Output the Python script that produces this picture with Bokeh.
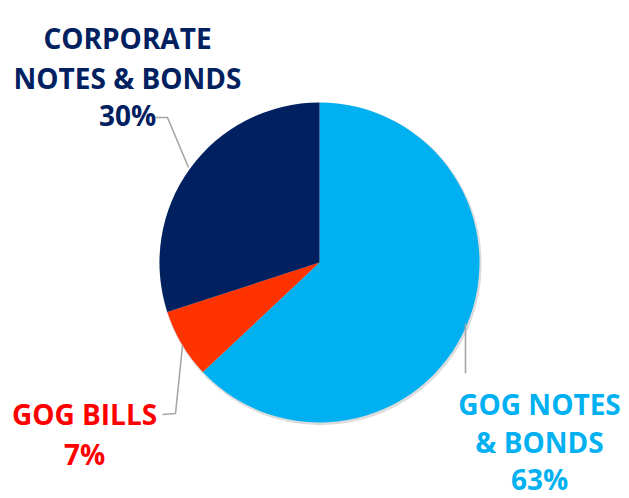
import math
from bokeh.plotting import figure
from bokeh.models import Range1d, ColumnDataSource
from bokeh.core.properties import value
from bokeh.embed import file_html
from bokeh.resources import INLINE

# ---- data ----
categories = ["GOG NOTES & BONDS", "GOG BILLS", "CORPORATE NOTES & BONDS"]
values = [63, 7, 30]
label_lines = [["GOG NOTES", "& BONDS"], ["GOG BILLS"], ["CORPORATE", "NOTES & BONDS"]]
pct_labels = ["63%", "7%", "30%"]

# ---- style / layout ----
slice_colors = ["#00B0F0", "#FF3300", "#002060"]
text_colors = ["#00B0F0", "#FF0000", "#002060"]
W, H = 629, 498
CX, CY, R = 319, 262, 160           # page pixel coords
label_pos = [(539, 403, 38.5), (84, 413, 40), (127, 37, 40)]  # center x, first baseline, line height
pct_drop = [75, 40, 77]
leaders = [
    [(465, 323), (465, 373)],
    [(182, 345), (175, 413), (162, 414)],
    [(188, 167), (167, 117), (155, 117)],
]
FONT = "Open Sans"

def Y(y):
    return H - y

p = figure(width=W, height=H, x_range=Range1d(0, W), y_range=Range1d(0, H),
           output_backend="svg", toolbar_location=None, x_axis_type=None, y_axis_type=None,
           min_border=0, outline_line_color=None)
p.grid.visible = False
p.background_fill_color = "white"
p.border_fill_color = "white"

# subtle shadow
p.circle(x=[CX + 1], y=[Y(CY) - 1.5], radius=R + 1.2, fill_color="#9A9A9A", fill_alpha=0.35,
         line_color=None)

total = float(sum(values))
starts, ends = [], []
a = math.pi / 2
for v in values:
    a1 = a - 2 * math.pi * v / total
    starts.append(a1)
    ends.append(a)
    a = a1
src = ColumnDataSource(dict(start=starts, end=ends, color=slice_colors, cat=categories))
p.wedge(x=CX, y=Y(CY), radius=R, start_angle="start", end_angle="end", direction="anticlock",
        fill_color="color", line_color=None, source=src)

for pts in leaders:
    p.line([q[0] for q in pts], [Y(q[1]) for q in pts], line_color="#A6A6A6", line_width=1.6)

for i, lines in enumerate(label_lines):
    x0, b0, lh = label_pos[i]
    xs, ys, ts = [], [], []
    for j, t in enumerate(lines):
        xs.append(x0); ys.append(Y(b0 + j * lh)); ts.append(t)
    xs.append(x0); ys.append(Y(b0 + pct_drop[i])); ts.append(pct_labels[i])
    p.text(x=xs, y=ys, text=ts, text_align="center", text_baseline="alphabetic",
           text_font=value(FONT), text_font_style="bold", text_font_size="28px",
           text_color=text_colors[i])

open("out.html", "w").write(file_html(p, INLINE))
